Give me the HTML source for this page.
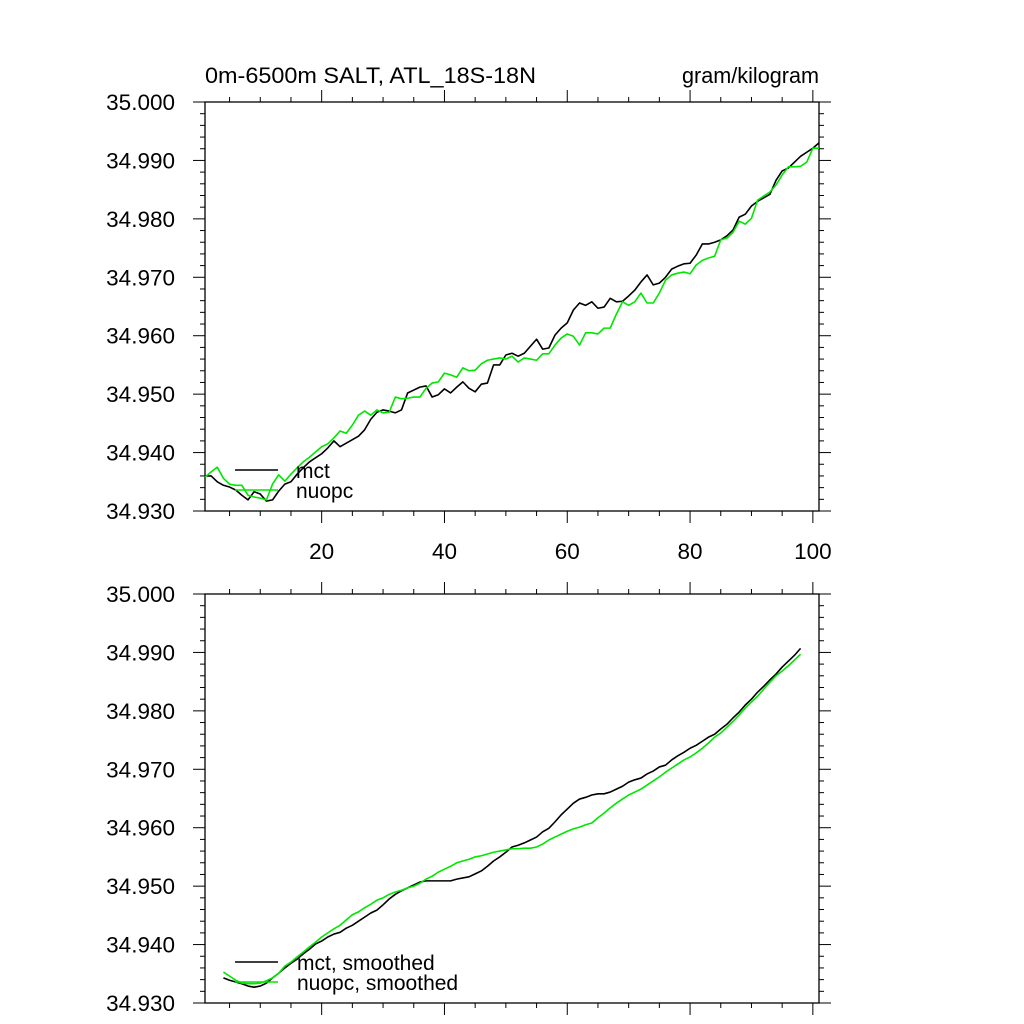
<!DOCTYPE html>
<html><head><meta charset="utf-8"><style>
html,body{margin:0;padding:0;background:#fff;}
svg{display:block;font-family:"Liberation Sans",sans-serif;}
</style></head><body>
<svg id="chart" width="1024" height="1024" viewBox="0 0 1024 1024">
<text x="205" y="83" font-size="22" textLength="331" lengthAdjust="spacingAndGlyphs">0m-6500m SALT, ATL_18S-18N</text>
<text x="682" y="83" font-size="22" textLength="137" lengthAdjust="spacingAndGlyphs">gram/kilogram</text>
<g id="top"></g>
<g id="bot"></g>
</svg>
<script>
const yTicks = [34.93, 34.94, 34.95, 34.96, 34.97, 34.98, 34.99, 35.00];
const yTickLabels = ["34.930","34.940","34.950","34.960","34.970","34.980","34.990","35.000"];
const xTicks = [20, 40, 60, 80, 100];
const xTickLabels = ["20","40","60","80","100"];
const mctRaw = [34.9360,34.9360,34.9350,34.9344,34.9341,34.9336,34.9327,34.9319,34.9333,34.9329,34.9317,34.9319,34.9334,34.9346,34.9350,34.9363,34.9374,34.9384,34.9391,34.9398,34.9408,34.9420,34.9410,34.9416,34.9422,34.9428,34.9439,34.9457,34.9469,34.9473,34.9471,34.9468,34.9473,34.9502,34.9507,34.9512,34.9514,34.9495,34.9499,34.9509,34.9502,34.9512,34.9521,34.9510,34.9504,34.9517,34.9519,34.9550,34.9550,34.9567,34.9570,34.9565,34.9570,34.9582,34.9594,34.9577,34.9579,34.9601,34.9613,34.9622,34.9644,34.9656,34.9652,34.9658,34.9647,34.9649,34.9664,34.9658,34.9659,34.9668,34.9678,34.9692,34.9704,34.9687,34.9690,34.9700,34.9714,34.9719,34.9723,34.9724,34.9738,34.9757,34.9757,34.9760,34.9764,34.9771,34.9781,34.9803,34.9808,34.9822,34.9830,34.9836,34.9842,34.9866,34.9882,34.9887,34.9897,34.9907,34.9914,34.9921,34.9930];
const nuopcRaw = [34.9358,34.9367,34.9375,34.9356,34.9346,34.9344,34.9344,34.9327,34.9324,34.9322,34.9319,34.9346,34.9362,34.9351,34.9363,34.9374,34.9384,34.9392,34.9401,34.9410,34.9415,34.9425,34.9437,34.9433,34.9447,34.9464,34.9471,34.9464,34.9473,34.9468,34.9469,34.9495,34.9492,34.9493,34.9495,34.9495,34.9510,34.9519,34.9521,34.9536,34.9533,34.9529,34.9545,34.9540,34.9541,34.9552,34.9558,34.9560,34.9562,34.9560,34.9565,34.9555,34.9562,34.9560,34.9558,34.9569,34.9569,34.9584,34.9596,34.9603,34.9599,34.9584,34.9605,34.9605,34.9603,34.9613,34.9613,34.9637,34.9658,34.9652,34.9658,34.9673,34.9656,34.9656,34.9673,34.9695,34.9704,34.9707,34.9709,34.9706,34.9721,34.9729,34.9733,34.9736,34.9764,34.9767,34.9777,34.9796,34.9791,34.9801,34.9832,34.9839,34.9846,34.9858,34.9875,34.9889,34.9889,34.9890,34.9897,34.9921,34.9921];
const smoothStart = 4;
const mctSmooth = [34.9343,34.9339,34.9336,34.9333,34.9329,34.9327,34.9329,34.9334,34.9343,34.9351,34.9360,34.9368,34.9375,34.9384,34.9392,34.9401,34.9406,34.9413,34.9418,34.9421,34.9428,34.9433,34.9440,34.9447,34.9454,34.9459,34.9468,34.9478,34.9486,34.9492,34.9497,34.9502,34.9507,34.9509,34.9509,34.9509,34.9509,34.9509,34.9512,34.9514,34.9516,34.9521,34.9526,34.9534,34.9543,34.9550,34.9558,34.9567,34.9570,34.9574,34.9579,34.9584,34.9593,34.9599,34.9610,34.9622,34.9632,34.9642,34.9649,34.9652,34.9656,34.9658,34.9658,34.9661,34.9666,34.9671,34.9678,34.9682,34.9685,34.9692,34.9697,34.9704,34.9707,34.9716,34.9723,34.9729,34.9736,34.9741,34.9748,34.9755,34.9760,34.9769,34.9777,34.9788,34.9798,34.9810,34.9820,34.9832,34.9842,34.9853,34.9863,34.9875,34.9885,34.9895,34.9907];
const nuopcSmooth = [34.9353,34.9346,34.9339,34.9334,34.9333,34.9333,34.9334,34.9338,34.9343,34.9351,34.9363,34.9370,34.9379,34.9387,34.9396,34.9404,34.9413,34.9420,34.9427,34.9433,34.9442,34.9451,34.9456,34.9463,34.9469,34.9476,34.9480,34.9486,34.9490,34.9493,34.9497,34.9500,34.9505,34.9512,34.9517,34.9524,34.9529,34.9534,34.9540,34.9543,34.9546,34.9550,34.9552,34.9555,34.9558,34.9560,34.9562,34.9564,34.9564,34.9565,34.9565,34.9567,34.9572,34.9579,34.9584,34.9589,34.9594,34.9598,34.9601,34.9605,34.9608,34.9617,34.9625,34.9634,34.9642,34.9649,34.9656,34.9661,34.9666,34.9673,34.9680,34.9687,34.9695,34.9702,34.9709,34.9716,34.9721,34.9728,34.9736,34.9745,34.9755,34.9762,34.9772,34.9782,34.9793,34.9805,34.9815,34.9825,34.9837,34.9849,34.9860,34.9868,34.9877,34.9887,34.9897];

const NS = "http://www.w3.org/2000/svg";
const L = 205, R = 819, XMIN = 1, XMAX = 101, YMIN = 34.93, YMAX = 35.0;
const GREEN = "#00e600";
function xs(v){ return L + (v - XMIN) / (XMAX - XMIN) * (R - L); }
function mk(tag, attrs, parent){ const e = document.createElementNS(NS, tag); for (const k in attrs) e.setAttribute(k, attrs[k]); parent.appendChild(e); return e; }

function panel(g, top, bottom, showXLabels, series, legend){
  const ys = v => bottom - (v - YMIN) / (YMAX - YMIN) * (bottom - top);
  const fr = mk("rect", {x:L, y:top, width:R-L, height:bottom-top, fill:"none", stroke:"#000", "stroke-width":1.3}, g);
  
  
  for (let k = 0; k <= 35; k++){
    const v = YMIN + k * 0.002;
    const y = ys(v);
    const major = k % 5 === 0;
    const len = major ? 12 : 5;
    mk("line", {x1:L-len, y1:y, x2:L, y2:y, stroke:"#000", "stroke-width":1}, g);
    mk("line", {x1:R, y1:y, x2:R+len, y2:y, stroke:"#000", "stroke-width":1}, g);
  }
  yTicks.forEach((v, i) => {
    const t = mk("text", {x:175, y:ys(v)+8, "font-size":22.5, "text-anchor":"end"}, g);
    t.textContent = yTickLabels[i];
    
    
  });
  for (let v = 5; v <= XMAX; v += 5){
    const x = xs(v);
    const len = v % 20 === 0 ? 12 : 5;
    mk("line", {x1:x, y1:top-len, x2:x, y2:top, stroke:"#000", "stroke-width":1}, g);
    mk("line", {x1:x, y1:bottom, x2:x, y2:bottom+len, stroke:"#000", "stroke-width":1}, g);
  }
  if (showXLabels){
    xTicks.forEach((v, i) => {
      const t = mk("text", {x:xs(v), y:bottom+48, "font-size":22.5, "text-anchor":"middle"}, g);
      t.textContent = xTickLabels[i];
      
      
    });
  }
  series.forEach(s => {
    const pts = s.data.map((v, i) => xs(s.start + i).toFixed(2) + "," + ys(v).toFixed(2)).join(" ");
    const p = mk("polyline", {points:pts, fill:"none", stroke:s.color, "stroke-width":1.6, "stroke-linejoin":"round"}, g);
    
    
  });
  legend.forEach(l => {
    const ln = mk("line", {x1:235, y1:l.y, x2:278, y2:l.y, stroke:l.color, "stroke-width":1.6}, g);
    
    
    const t = mk("text", {x:l.tx, y:l.y+8, "font-size":21}, g);
    t.textContent = l.label;
    
    
  });
}

panel(document.getElementById("top"), 102, 511, true,
  [{data:mctRaw, start:1, color:"#000", name:"mct-line"},
   {data:nuopcRaw, start:1, color:GREEN, name:"nuopc-line"}],
  [{y:470, color:"#000", label:"mct", tx:296},
   {y:490, color:GREEN, label:"nuopc", tx:296}]);
panel(document.getElementById("bot"), 594, 1003, false,
  [{data:mctSmooth, start:smoothStart, color:"#000", name:"mct-smoothed-line"},
   {data:nuopcSmooth, start:smoothStart, color:GREEN, name:"nuopc-smoothed-line"}],
  [{y:962, color:"#000", label:"mct, smoothed", tx:297},
   {y:982, color:GREEN, label:"nuopc, smoothed", tx:297}]);
</script>
</body></html>
